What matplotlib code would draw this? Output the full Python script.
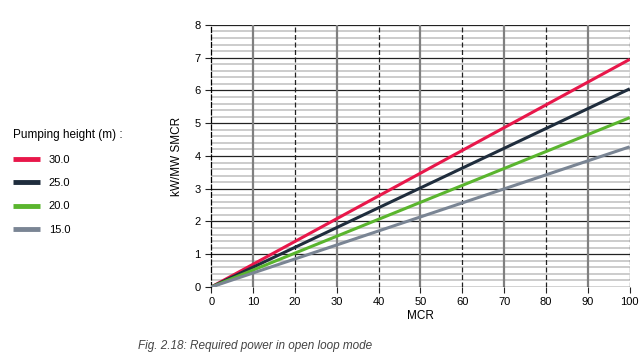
import matplotlib
matplotlib.use('Agg')
import matplotlib.pyplot as plt
import numpy as np
from matplotlib.ticker import MultipleLocator

plt.rcParams['font.family'] = ['Liberation Sans Narrow', 'Liberation Sans', 'DejaVu Sans']

# data: required power (kW/MW SMCR) vs MCR, straight lines from 0
mcr = [0, 100]
heights = ['30.0', '25.0', '20.0', '15.0']
power = [[0, 6.95], [0, 6.05], [0, 5.17], [0, 4.28]]
colors = ['#e8174a', '#1f2d3d', '#5ab52e', '#7a8594']

fig = plt.figure(figsize=(6.4, 3.64), dpi=100)
ax = fig.add_axes([0.33, 0.2115, 0.654, 0.72])

# grid: gray minor rows, black major rows, alternating vertical lines
for y in np.arange(0.2, 8, 0.2):
    if abs(y - round(y)) > 1e-6:
        ax.axhline(y, color='#c8c8c8', lw=1.3, zorder=1)
for y in range(1, 9):
    ax.axhline(y, color='#222222', lw=0.9, zorder=2)
for x in range(10, 101, 10):
    if (x // 10) % 2 == 1:
        ax.axvline(x, color='#808080', lw=1.6, zorder=2)
    else:
        ax.axvline(x, color='#222222', lw=0.9, ls=(0, (4, 2)), zorder=2)

handles = []
for h, p, c in zip(heights, power, colors):
    ln, = ax.plot(mcr, p, color=c, lw=2.2, label=h, zorder=3, solid_capstyle='butt')
    handles.append(ln)

ax.set_xlim(0, 100)
ax.set_ylim(0, 8)
ax.xaxis.set_major_locator(MultipleLocator(10))
ax.yaxis.set_major_locator(MultipleLocator(1))
for s in ['top', 'right', 'bottom']:
    ax.spines[s].set_visible(False)
ax.spines['left'].set_linestyle((0, (4, 2)))
ax.spines['left'].set_linewidth(0.9)
ax.axhline(0, color='#222222', lw=1.0, zorder=2)
ax.tick_params(axis='both', labelsize=8, length=4, width=0.8, color='#222222')
ax.set_xlabel('MCR', fontsize=8.5, labelpad=2)
ax.set_ylabel('kW/MW SMCR', fontsize=8.5, labelpad=8)

leg = fig.legend(handles=handles, labels=heights, loc='upper left',
                 bbox_to_anchor=(0.005, 0.672), frameon=False, fontsize=8,
                 title='Pumping height (m) :', title_fontsize=8.5,
                 handlelength=2.4, handletextpad=0.8, labelspacing=1.2,
                 alignment='left')
for lh in leg.get_lines():
    lh.set_linewidth(3.5)

fig.text(0.215, 0.04, 'Fig. 2.18: Required power in open loop mode',
         fontsize=8.5, style='italic', color='#444444',
         family=['Liberation Sans', 'DejaVu Sans'])

fig.savefig('out.png', dpi=100)
